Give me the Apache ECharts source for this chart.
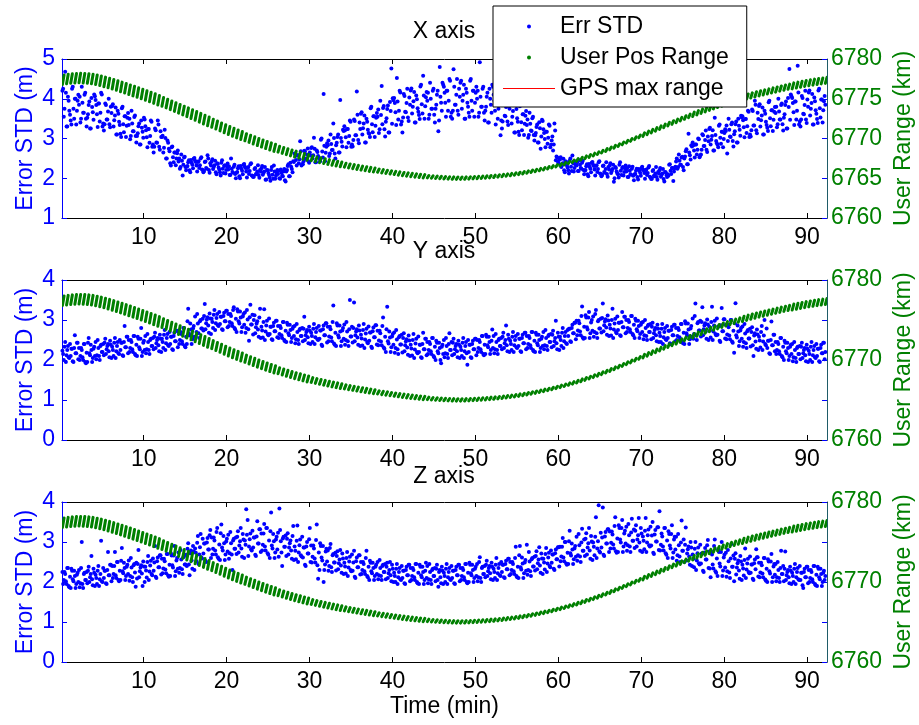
<!DOCTYPE html>
<html><head><meta charset="utf-8">
<script src="https://cdn.jsdelivr.net/npm/echarts@6/dist/echarts.min.js"></script>
<style>html,body{margin:0;padding:0;background:#fff}#c{width:919px;height:725px}</style>
</head><body><div id="c"></div>
<script>
// ---- time base of the samples (minutes) ----
const T0 = 0.2, STEP = 1 / 6;          // first Err STD sample set, every 10 s
const T0B = 0.2 + 1 / 12;              // second, interleaved sample set
const RT0 = 0.2, RSTEP = 0.5;          // user range clusters every 30 s
const X_MIN = 0.15, X_MAX = 92.4;
const xTicks = [10, 20, 30, 40, 50, 60, 70, 80, 90];
const panelTitles = ['X axis', 'Y axis', 'Z axis'];
const leftRanges = [[1, 5], [0, 4], [0, 4]];
const rightRange = [6760, 6780];
const rightLabels = [[6760, 6765, 6770, 6775, 6780], [6760, 6770, 6780], [6760, 6770, 6780]];
const legendNames = ['Err STD', 'User Pos Range', 'GPS max range'];

// ---- Err STD (m), X axis ----
const errX = [
4.20,3.55,4.68,3.30,4.05,3.70, 3.45,4.25,3.75,4.00,3.35,3.95, 3.85,3.40,4.30,3.65,4.10,3.50,
3.52,3.84,3.25,4.02,3.66,4.11, 3.97,3.61,3.88,3.43,4.15,3.30, 3.20,3.88,3.48,3.68,3.36,3.80,
3.82,3.30,3.58,3.10,3.70,3.42, 3.12,3.76,3.36,3.56,3.04,3.52, 3.34,2.98,3.70,3.18,3.54,3.06,
3.06,3.31,2.85,3.45,3.17,3.52, 3.31,3.03,3.24,2.89,3.45,2.79, 2.65,3.25,2.90,3.45,2.79,3.18,
3.04,2.65,3.22,2.50,2.95,2.74, 2.38,2.78,2.53,2.65,2.33,2.63, 2.42,2.24,2.60,2.07,2.52,2.28,
2.29,2.40,2.20,2.46,2.34,2.49, 2.44,2.32,2.41,2.26,2.50,2.22, 2.15,2.41,2.26,2.58,2.21,2.38,
2.42,2.23,2.33,2.15,2.38,2.27, 2.15,2.39,2.24,2.31,2.12,2.30, 2.22,2.08,2.50,2.16,2.29,2.11,
2.14,2.25,2.05,2.31,2.19,2.34, 2.29,2.17,2.26,2.11,2.35,2.07, 2.03,2.23,2.11,2.17,2.08,2.21,
2.25,2.09,2.17,1.96,2.21,2.13, 2.02,2.21,2.09,2.32,1.99,2.14, 2.11,2.00,2.22,2.06,2.17,1.95,
2.17,2.31,2.05,2.39,2.23,2.43, 2.62,2.46,2.58,2.38,2.93,2.32, 2.35,2.69,2.49,2.59,2.43,2.65,
2.76,2.50,3.02,2.40,2.70,2.56, 2.49,2.97,2.67,4.12,2.43,2.79, 2.83,2.56,3.10,2.71,3.38,2.62,
2.83,3.04,2.65,3.97,2.92,3.22, 3.31,3.03,3.24,2.89,3.45,2.79, 2.80,3.48,3.08,4.18,2.96,3.40,
3.62,3.10,3.38,2.90,3.50,3.22, 3.12,3.76,3.36,3.56,3.04,3.52, 3.55,3.14,3.95,4.32,3.77,3.23,
3.42,3.74,3.15,3.92,4.76,4.01, 4.02,3.66,4.52,3.48,4.20,3.35, 3.15,4.12,3.67,3.89,3.53,4.03,
4.21,3.63,3.94,3.40,4.08,3.76, 3.59,4.31,3.86,4.58,3.50,4.04, 3.95,3.50,4.40,3.75,4.20,3.60,
3.75,4.10,3.18,4.80,3.90,4.40, 4.30,3.90,4.20,3.70,4.50,3.55, 3.50,4.74,3.85,4.10,3.70,4.25,
4.40,3.75,4.10,3.50,4.25,3.90, 3.65,4.45,3.95,4.20,3.55,4.15, 4.00,3.55,4.92,3.80,4.25,3.65,
3.70,4.05,3.40,4.25,3.85,4.35, 4.10,3.70,4.00,3.50,4.55,3.08, 3.25,4.02,3.57,3.79,3.43,3.93,
3.96,3.38,3.69,3.15,4.30,3.51, 3.17,3.81,3.41,3.61,3.09,3.57, 3.34,3.02,3.65,3.20,3.51,3.09,
3.08,3.29,2.90,3.41,2.74,3.47, 3.23,2.99,3.17,2.87,3.35,2.78, 2.95,2.70,3.38,2.45,2.52,2.38,
2.47,2.28,2.38,2.20,2.43,2.32, 2.20,2.44,2.29,2.57,2.17,2.35, 2.32,2.18,2.45,2.26,2.39,2.21,
2.19,2.30,2.10,2.36,2.24,2.39, 2.34,2.22,2.31,2.16,2.40,2.12, 2.05,2.31,2.16,2.23,2.11,2.28,
2.32,2.13,2.23,1.91,2.28,2.17, 2.10,2.34,2.19,2.26,2.07,2.25, 2.17,2.03,2.30,2.10,2.24,2.06,
2.10,2.19,2.03,2.23,2.14,2.26, 2.22,2.13,2.20,2.08,2.27,2.04, 1.98,2.18,2.06,2.12,2.03,2.16,
2.20,2.04,2.12,1.98,2.16,2.08, 2.10,2.34,2.19,2.26,1.93,2.25, 2.42,2.24,2.60,2.34,2.52,2.28,
2.50,2.68,2.35,3.12,2.58,2.83, 2.90,2.70,2.85,2.60,3.00,2.53, 2.60,3.11,2.81,2.96,2.72,3.05,
3.24,2.85,3.06,2.70,3.52,2.94, 2.84,3.32,3.02,3.17,2.78,3.14, 3.19,2.62,3.50,3.05,3.36,2.94,
3.11,3.36,2.90,3.50,3.22,3.57, 3.56,3.28,3.49,3.14,3.70,3.04, 3.05,3.73,3.33,3.95,3.21,3.65,
3.82,3.30,3.58,3.10,3.70,3.42, 3.27,3.91,3.51,3.71,3.19,3.67, 3.64,3.28,4.00,3.48,3.84,3.36,
3.52,3.84,3.25,4.02,4.75,4.11, 4.02,3.66,3.93,3.48,4.83,3.35, 3.30,4.07,3.62,3.84,3.48,3.98,
4.16,3.58,3.89,3.35,4.03,3.71, 3.49,4.21,3.76,3.98,3.40,3.94, 3.85
];
const errX2 = [
4.25,3.75,4.15,3.30,3.95,3.60, 3.35,4.30,3.50,4.00,3.70,4.10, 4.05,3.50,3.90,3.65,4.15,3.30,
3.61,3.93,3.25,3.79,3.47,4.06, 3.84,3.29,3.88,3.65,4.11,3.38, 3.36,3.84,3.48,4.00,3.28,3.64,
3.86,3.46,3.78,3.10,3.62,3.34, 3.04,3.80,3.16,3.56,3.32,3.64, 3.50,3.06,3.38,3.18,3.58,2.90,
3.13,3.38,2.85,3.27,3.02,3.48, 3.21,2.78,3.24,3.06,3.42,2.85, 2.79,3.21,2.89,3.35,2.72,3.04,
3.07,2.77,3.01,2.50,2.89,2.68, 2.32,2.80,2.40,2.65,2.50,2.70, 2.50,2.28,2.44,2.34,2.54,2.20,
2.31,2.45,2.15,2.39,2.25,2.51, 2.41,2.17,2.43,2.33,2.53,2.21, 2.18,2.42,2.24,2.50,2.14,2.32,
2.48,2.28,2.44,2.10,2.36,2.22, 2.07,2.45,2.13,2.33,2.21,2.37, 2.30,2.08,2.24,2.14,2.34,2.00,
2.16,2.30,2.00,2.24,2.10,2.36, 2.26,2.02,2.28,2.18,2.38,2.06, 2.04,2.26,2.10,2.33,2.01,2.17,
2.31,2.13,2.28,1.97,2.20,2.08, 1.94,2.28,1.99,2.17,2.06,2.21, 2.19,1.99,2.14,2.05,2.23,1.92,
2.21,2.35,2.05,2.29,2.15,2.41, 2.56,2.32,2.58,2.48,2.68,2.36, 2.43,2.67,2.49,2.75,2.39,2.57,
2.78,2.58,2.74,2.40,2.66,2.52, 2.43,3.00,2.52,2.82,2.64,2.88, 2.95,2.62,2.86,2.71,3.01,2.50,
2.89,3.10,2.65,3.01,2.80,3.19, 3.21,2.78,3.24,3.06,3.42,2.85, 2.96,3.44,3.08,3.60,2.88,3.24,
3.66,3.26,3.58,2.90,3.42,3.14, 3.04,3.80,3.16,3.56,3.32,3.64, 3.73,3.23,3.59,3.36,3.82,3.05,
3.51,3.83,3.15,3.69,3.37,3.96, 3.89,3.34,3.93,3.70,4.16,3.43, 3.53,4.07,3.66,4.25,3.44,3.85,
4.26,3.80,4.17,3.40,3.99,3.67, 3.49,4.35,3.63,4.08,3.81,4.17, 4.15,3.60,4.00,3.75,4.25,3.40,
3.85,4.20,3.45,4.05,3.70,4.35, 4.15,3.55,4.20,3.95,4.45,3.65, 3.70,4.30,3.85,4.50,3.60,4.05,
4.45,3.95,4.35,3.50,4.15,3.80, 3.55,4.50,3.70,4.20,3.90,4.30, 4.20,3.65,4.05,3.80,4.30,3.45,
3.80,4.15,3.40,4.00,3.65,4.30, 3.95,3.35,4.00,3.75,4.25,3.45, 3.43,3.97,3.56,4.15,3.34,3.75,
4.01,3.55,3.92,3.15,3.74,3.42, 3.09,3.85,3.21,3.61,3.37,3.69, 3.48,3.09,3.37,3.19,3.55,2.95,
3.14,3.35,2.90,3.26,3.05,3.44, 3.14,2.78,3.17,3.02,3.32,2.84, 3.05,2.85,3.20,2.55,2.42,2.50,
2.53,2.33,2.49,2.15,2.41,2.27, 2.12,2.50,2.18,2.38,2.26,2.42, 2.40,2.18,2.34,2.24,2.44,2.10,
2.21,2.35,2.05,2.29,2.15,2.41, 2.31,2.07,2.33,2.23,2.43,2.11, 2.08,2.32,2.14,2.40,2.04,2.22,
2.38,2.18,2.34,2.00,2.26,2.12, 2.02,2.40,2.08,2.28,2.16,2.32, 2.25,2.03,2.19,2.09,2.29,1.95,
2.11,2.24,1.97,2.19,2.06,2.29, 2.20,1.99,2.22,2.13,2.31,2.02, 1.99,2.21,2.05,2.28,1.96,2.12,
2.26,2.08,2.23,1.92,2.15,2.03, 2.06,2.35,2.11,2.26,2.17,2.29, 2.50,2.28,2.44,2.34,2.54,2.20,
2.55,2.73,2.35,2.65,2.47,2.80, 2.83,2.52,2.85,2.72,2.98,2.57, 2.72,3.08,2.81,3.20,2.66,2.93,
3.27,2.97,3.21,2.70,3.09,2.88, 2.78,3.35,2.87,3.17,2.99,3.23, 3.33,2.94,3.22,3.04,3.40,2.80,
3.18,3.43,2.90,3.32,3.07,3.53, 3.46,3.03,3.49,3.31,3.67,3.10, 3.21,3.69,3.33,3.85,3.13,3.49,
3.86,3.46,3.78,3.10,3.62,3.34, 3.19,3.95,3.31,3.71,3.47,3.79, 3.80,3.36,3.68,3.48,3.88,3.20,
3.61,3.93,3.25,3.79,3.47,4.06, 3.89,3.34,3.93,3.70,4.16,3.43, 3.48,4.02,3.61,4.20,3.39,3.80,
4.21,3.75,4.12,3.35,3.94,3.62, 3.39,4.25,3.53,3.98,3.71,4.07
];

// ---- Err STD (m), Y axis ----
const errY = [
2.23,2.00,2.45,2.12,2.35,2.05, 2.10,2.28,1.95,2.62,2.17,2.43, 2.30,2.10,2.25,2.00,2.40,1.92,
1.95,2.55,2.12,2.25,2.05,2.33, 2.45,2.12,2.30,2.00,2.38,2.20, 2.12,2.53,2.27,2.40,2.07,2.38,
2.33,2.10,2.55,2.22,2.45,2.15, 2.25,2.43,2.10,2.85,2.32,2.58, 2.50,2.30,2.45,2.20,2.60,2.12,
2.10,2.53,2.27,2.80,2.20,2.48, 2.60,2.27,2.45,2.15,2.53,2.35, 2.27,2.68,2.42,2.55,2.22,2.53,
2.53,2.30,2.75,2.42,2.65,2.35, 2.40,2.58,2.25,2.68,2.47,2.73, 2.70,2.50,2.65,2.40,2.80,2.32,
2.40,3.28,2.61,2.76,2.52,2.85, 3.09,2.70,2.91,2.55,3.00,2.79, 2.74,3.40,2.92,3.07,2.68,3.04,
3.03,2.80,3.25,2.92,3.15,2.85, 2.90,3.08,2.75,3.18,2.97,3.23, 3.15,2.95,3.10,2.85,3.32,2.77,
2.70,3.21,2.91,3.06,2.82,3.15, 3.19,2.80,3.01,2.48,3.38,2.89, 2.64,3.12,2.82,2.97,2.58,3.28,
2.83,2.56,3.27,2.71,2.98,2.62, 2.65,2.83,2.50,2.93,2.72,2.98, 2.85,2.65,2.80,2.55,2.95,2.47,
2.45,2.88,2.62,2.75,2.55,2.83, 2.85,2.52,2.70,2.40,2.78,2.60, 2.47,3.08,2.62,2.75,2.42,2.73,
2.68,2.45,2.90,2.57,2.80,2.50, 2.53,2.74,2.35,2.86,2.62,2.92, 2.83,2.59,2.77,2.47,3.36,2.38,
2.35,2.86,2.56,2.71,2.47,2.80, 2.89,2.50,2.71,2.35,3.50,2.59, 2.44,3.44,2.62,2.77,2.38,2.74,
2.63,2.36,2.90,2.51,2.78,2.42, 2.48,2.69,2.30,2.81,2.57,2.87, 2.73,2.49,2.67,2.37,3.06,2.28,
2.20,3.33,2.41,2.56,2.32,2.65, 2.69,2.30,2.51,2.15,2.60,2.39, 2.19,2.67,2.37,2.52,2.13,2.49,
2.38,2.11,2.65,2.26,2.53,2.17, 2.20,2.38,2.05,2.68,2.27,2.53, 2.45,2.25,2.40,2.15,2.55,2.07,
2.00,2.43,2.17,2.30,1.92,2.38, 2.50,2.17,2.35,2.05,2.67,2.25, 2.12,2.53,2.27,2.40,2.07,2.38,
2.33,2.10,2.55,2.22,2.45,1.88, 2.20,2.38,2.05,2.48,2.27,2.53, 2.50,2.30,2.45,2.20,2.60,2.12,
2.15,2.58,2.32,2.45,2.25,2.76, 2.60,2.27,2.45,2.15,2.53,2.35, 2.27,2.68,2.42,2.86,2.22,2.53,
2.48,2.25,2.70,2.37,2.60,2.30, 2.35,2.53,2.20,2.63,2.42,2.68, 2.60,2.40,2.55,2.30,2.70,2.22,
2.20,2.63,2.37,2.50,2.30,2.58, 2.70,2.37,2.55,2.25,2.63,2.45, 2.32,2.73,2.47,2.98,2.27,2.58,
2.58,2.35,2.80,2.47,2.70,2.40, 2.60,2.78,2.45,2.88,2.67,2.93, 2.98,2.74,2.92,2.62,3.34,2.53,
2.55,3.06,2.76,3.20,2.67,3.00, 3.09,2.70,3.25,2.55,3.00,2.79, 2.69,3.41,2.87,3.02,2.63,2.99,
2.88,2.61,3.28,2.76,3.03,2.67, 2.75,2.93,2.60,3.20,2.82,3.08, 3.00,2.80,2.95,2.70,3.10,2.62,
2.55,2.98,2.72,2.85,2.65,2.93, 2.95,2.62,2.80,2.50,2.88,2.70, 2.52,2.93,2.67,2.80,2.47,2.78,
2.68,2.45,2.90,2.57,2.80,2.50, 2.55,2.73,2.40,2.83,2.62,2.88, 2.80,2.60,2.75,2.50,2.90,2.42,
2.40,2.91,2.61,2.76,2.52,2.85, 3.04,2.65,3.41,2.50,2.95,2.74, 2.59,3.32,2.77,2.92,2.53,2.89,
2.83,2.56,3.33,2.71,2.98,2.62, 2.63,2.84,2.45,3.30,2.72,3.02, 2.88,2.64,2.82,2.52,3.00,2.43,
2.18,3.42,2.56,2.71,2.47,2.80, 2.84,2.45,2.66,2.30,2.75,2.54, 2.34,2.82,2.10,2.67,2.28,2.64,
2.58,2.31,2.85,2.46,3.00,2.37, 2.30,2.48,2.15,2.96,2.37,2.63, 2.45,2.25,2.40,2.15,2.55,2.07,
2.00,2.43,2.17,2.30,2.10,2.38, 2.40,2.07,2.25,1.95,2.33,2.15, 2.02,2.43,2.17,2.30,1.97,2.28,
2.23,2.00,2.45,2.12,2.35,2.05, 2.10,2.28,1.95,2.38,2.17,2.43, 2.20
];
const errY2 = [
2.15,2.33,1.95,2.25,2.07,2.40, 2.28,1.97,2.30,2.17,2.43,2.02, 2.00,2.30,2.07,2.40,1.95,2.18,
2.43,2.17,2.38,1.95,2.28,2.10, 2.02,2.50,2.10,2.35,2.20,2.40, 2.43,2.15,2.35,2.22,2.48,2.05,
2.25,2.43,2.05,2.35,2.17,2.50, 2.43,2.12,2.45,2.32,2.58,2.17, 2.20,2.50,2.27,2.60,2.15,2.38,
2.58,2.32,2.53,2.10,2.43,2.25, 2.17,2.65,2.25,2.50,2.35,2.55, 2.58,2.30,2.50,2.37,2.63,2.20,
2.45,2.63,2.25,2.55,2.37,2.70, 2.58,2.27,2.60,2.47,2.73,2.32, 2.40,2.70,2.47,2.80,2.35,2.58,
2.97,2.67,2.91,2.40,2.79,2.58, 2.58,3.15,2.67,2.97,2.79,3.03, 3.10,2.77,3.01,2.86,3.16,2.65,
2.95,3.13,2.75,3.05,2.87,3.20, 3.08,2.77,3.10,2.97,3.23,2.82, 2.85,3.15,2.92,3.25,2.80,3.03,
3.27,2.97,3.21,2.70,3.09,2.88, 2.68,3.25,2.77,3.07,2.89,3.13, 3.00,2.67,2.91,2.76,3.06,2.55,
2.74,2.95,2.50,2.86,2.65,3.04, 2.83,2.52,2.85,2.72,2.98,2.57, 2.55,2.85,2.62,2.95,2.50,2.73,
2.93,2.67,2.88,2.45,2.78,2.60, 2.42,2.90,2.50,2.75,2.60,2.80, 2.78,2.50,2.70,2.57,2.83,2.40,
2.60,2.78,2.40,2.70,2.52,2.85, 2.74,2.38,2.77,2.62,2.92,2.44, 2.47,2.83,2.56,2.95,2.41,2.68,
2.92,2.62,2.86,2.35,2.74,2.53, 2.38,2.95,2.47,2.77,2.59,2.83, 2.80,2.47,2.71,2.56,2.86,2.35,
2.54,2.75,2.30,2.66,2.45,2.84, 2.69,2.33,2.72,2.57,2.87,2.39, 2.37,2.73,2.46,2.85,2.31,2.58,
2.77,2.47,2.71,2.20,2.59,2.38, 2.18,2.75,2.27,2.57,2.39,2.63, 2.55,2.22,2.46,2.31,2.61,2.10,
2.29,2.50,2.05,2.41,2.20,2.59, 2.38,2.07,2.40,2.27,2.53,2.12, 2.15,2.45,2.22,2.55,2.10,2.33,
2.48,2.22,2.43,2.00,2.33,2.15, 2.07,2.55,2.15,2.40,2.25,2.45, 2.43,2.15,2.35,2.22,2.48,2.05,
2.25,2.43,2.05,2.35,2.17,2.50, 2.38,2.07,2.40,2.27,2.53,2.12, 2.20,2.50,2.27,2.60,2.15,2.38,
2.63,2.37,2.58,2.15,2.48,2.30, 2.17,2.65,2.25,2.50,2.35,2.55, 2.58,2.30,2.50,2.37,2.63,2.20,
2.40,2.58,2.20,2.50,2.32,2.65, 2.53,2.22,2.55,2.42,2.68,2.27, 2.30,2.60,2.37,2.70,2.25,2.48,
2.68,2.42,2.63,2.20,2.53,2.35, 2.27,2.75,2.35,2.60,2.45,2.65, 2.63,2.35,2.55,2.42,2.68,2.25,
2.50,2.68,2.30,2.60,2.42,2.75, 2.78,2.47,2.80,2.67,2.93,2.52, 2.62,2.98,2.71,3.10,2.56,2.83,
3.12,2.82,3.06,2.55,2.94,2.73, 2.58,3.15,2.67,2.97,2.79,3.03, 3.05,2.72,2.96,2.81,3.11,2.60,
2.79,3.00,2.55,2.91,2.70,3.09, 2.93,2.62,2.95,2.82,3.08,2.67, 2.70,3.00,2.77,3.10,2.65,2.88,
3.03,2.77,2.98,2.55,2.88,2.70, 2.52,3.00,2.60,2.85,2.70,2.90, 2.83,2.55,2.75,2.62,2.88,2.45,
2.60,2.78,2.40,2.70,2.52,2.85, 2.73,2.42,2.75,2.62,2.88,2.47, 2.50,2.80,2.57,2.90,2.45,2.68,
2.97,2.67,2.91,2.40,2.79,2.58, 2.53,3.10,2.62,2.92,2.74,2.98, 2.95,2.62,2.86,2.71,3.01,2.50,
2.74,2.95,2.50,2.86,2.65,3.04, 2.84,2.48,2.87,2.72,3.02,2.54, 2.52,2.88,2.61,3.00,2.46,2.73,
2.92,2.62,2.86,2.35,2.74,2.53, 2.33,2.90,2.42,2.72,2.54,2.78, 2.70,2.37,2.61,2.46,2.76,2.25,
2.49,2.70,2.25,2.61,2.40,2.79, 2.48,2.17,2.50,2.37,2.63,2.22, 2.15,2.45,2.22,2.55,2.10,2.33,
2.48,2.22,2.43,2.00,2.33,2.15, 1.97,2.45,2.05,2.30,2.15,2.35, 2.33,2.05,2.25,2.12,2.38,1.95,
2.15,2.33,1.95,2.25,2.07,2.40, 2.28,1.97,2.30,2.17,2.43,2.02
];

// ---- Err STD (m), Z axis ----
const errZ = [
2.25,2.05,2.20,1.95,2.35,1.87, 1.85,2.28,2.02,2.15,1.95,2.23, 2.30,1.97,3.00,1.85,2.23,2.05,
1.97,2.38,2.12,2.65,1.92,2.23, 2.18,1.95,2.40,2.07,3.03,2.00, 2.10,2.28,1.95,2.75,2.17,2.43,
2.40,2.20,2.75,2.10,2.50,2.02, 2.05,2.85,2.22,2.35,2.15,2.43, 2.54,2.15,2.36,2.00,2.45,1.88,
2.09,2.80,2.27,2.42,1.90,2.39, 2.38,2.11,2.65,2.26,2.53,2.17, 2.28,2.90,2.10,2.61,2.37,2.67,
2.58,2.34,2.52,2.22,2.70,2.13, 2.15,2.66,2.36,2.90,2.27,2.60, 2.74,2.35,2.56,2.20,2.65,2.44,
2.40,2.97,2.17,2.79,2.33,2.76, 2.84,2.52,3.15,2.69,3.20,2.59, 2.71,2.96,2.50,3.10,2.81,3.30,
3.11,2.83,3.04,2.69,3.35,2.58, 2.55,3.44,2.79,2.97,2.69,3.08, 3.18,2.72,2.97,2.30,3.08,2.83,
2.70,3.27,2.91,3.35,2.63,3.06, 3.04,3.82,3.55,2.89,3.21,2.79, 2.86,3.11,2.65,3.52,2.96,3.32,
3.21,2.93,3.45,2.79,3.35,2.68, 2.60,3.74,2.84,3.02,2.74,3.13, 3.23,3.84,3.02,2.40,3.13,2.88,
2.65,3.22,2.86,3.04,2.58,3.40, 2.89,2.57,3.41,2.74,3.06,2.64, 2.61,2.86,2.40,3.00,2.71,3.35,
2.91,2.63,2.84,2.49,3.44,2.08, 2.30,2.90,2.54,2.00,2.44,2.83, 2.79,2.40,2.95,2.25,2.70,2.49,
2.29,2.77,2.47,2.80,2.23,2.59, 2.48,2.21,2.75,2.36,2.63,2.27, 2.28,2.78,2.10,2.61,2.37,2.67,
2.50,2.30,2.45,2.20,2.78,2.12, 2.05,2.48,2.22,2.35,2.15,2.43, 2.50,2.17,2.35,2.05,2.43,2.25,
2.07,2.48,2.22,2.50,2.02,2.33, 2.23,2.00,2.45,2.12,2.35,2.05, 2.10,2.28,1.95,2.38,2.17,2.43,
2.35,2.15,2.30,2.05,2.45,1.97, 1.95,2.38,2.12,2.25,2.05,2.48, 2.40,2.07,2.25,1.95,2.33,2.15,
2.02,2.43,1.88,2.30,1.97,2.28, 2.23,2.00,2.45,2.12,2.35,2.05, 2.10,2.28,1.95,2.38,2.17,2.43,
2.35,2.15,2.30,2.05,2.45,1.97, 2.00,2.43,2.17,2.30,2.10,2.38, 2.45,2.12,2.62,2.00,2.38,2.20,
2.12,2.53,2.27,2.40,2.07,2.38, 2.33,2.10,2.60,2.22,2.45,2.15, 2.25,2.43,2.10,2.53,2.32,2.58,
2.50,2.30,2.45,2.20,2.88,2.12, 2.10,2.90,2.31,2.46,2.22,2.55, 2.93,2.30,2.51,2.15,2.60,2.39,
2.29,2.77,2.47,2.87,2.23,2.59, 2.58,2.31,2.85,2.46,2.73,2.37, 2.48,2.69,2.30,2.81,2.57,2.87,
2.88,2.64,3.10,2.52,3.00,2.43, 2.45,3.28,2.66,2.81,2.57,2.90, 3.13,2.67,2.92,2.50,3.33,2.78,
2.65,3.22,2.86,3.35,2.58,3.01, 2.99,2.67,3.62,2.84,3.92,2.74, 2.86,3.86,2.65,3.25,2.96,3.32,
3.26,2.98,3.19,2.84,3.62,2.73, 2.75,3.35,2.99,3.55,2.89,3.28, 3.38,2.92,3.17,2.75,3.58,3.03,
2.85,3.42,3.06,3.60,2.78,3.21, 3.14,2.82,3.60,2.99,3.31,2.89, 2.91,3.50,2.70,3.30,3.01,3.37,
3.77,2.93,3.14,2.79,3.35,2.68, 2.60,3.20,2.84,3.42,2.74,3.13, 3.13,2.67,2.92,2.50,3.54,2.78,
2.50,3.36,2.71,2.89,2.43,2.86, 2.69,2.37,3.00,2.54,2.86,2.44, 2.46,2.71,2.25,2.85,2.56,3.05,
2.76,2.12,2.69,2.34,3.06,2.23, 2.15,2.75,2.39,3.00,2.29,2.68, 2.73,2.27,2.52,2.10,2.95,2.38,
2.02,2.72,2.36,2.54,2.08,2.51, 2.43,2.16,2.84,2.31,2.58,2.22, 2.23,2.44,2.05,2.56,2.82,2.62,
2.48,2.24,2.42,2.12,2.60,2.03, 2.00,2.51,2.21,2.70,2.12,2.45, 2.45,2.12,2.30,2.00,2.78,2.20,
2.02,2.76,2.17,2.30,1.97,2.28, 2.23,2.00,2.45,2.12,2.35,2.05, 2.05,2.23,1.85,2.33,2.12,2.38,
2.30,2.10,2.25,2.00,2.40,1.92, 1.90,2.33,2.07,2.20,2.00,2.28, 2.15
];
const errZ2 = [
1.95,2.25,2.02,2.35,1.90,2.13, 2.33,2.07,2.28,1.85,2.18,2.00, 1.87,2.35,1.95,2.20,2.05,2.25,
2.28,2.00,2.20,2.07,2.33,1.90, 2.10,2.28,1.90,2.20,2.02,2.35, 2.28,1.97,2.30,2.17,2.43,2.02,
2.10,2.40,2.17,2.50,2.05,2.28, 2.53,2.27,2.48,2.05,2.38,2.20, 2.03,2.60,2.12,2.42,2.24,2.48,
2.45,2.12,2.36,2.21,2.51,2.00, 2.29,2.50,2.05,2.41,2.20,2.59, 2.49,2.13,2.52,2.37,2.67,2.19,
2.22,2.58,2.31,2.70,2.16,2.43, 2.72,2.42,2.66,2.15,2.54,2.33, 2.23,2.80,2.32,2.62,2.44,2.68,
2.83,2.44,2.72,2.54,2.90,2.30, 2.73,2.98,2.45,2.87,2.62,3.08, 2.96,2.53,2.99,2.81,3.17,2.60,
2.69,3.11,2.79,3.25,2.62,2.94, 3.22,2.86,3.15,2.55,3.01,2.76, 2.58,3.25,2.69,3.04,2.83,3.11,
3.13,2.74,3.02,2.84,3.20,2.60, 2.93,3.18,2.65,3.07,2.82,3.28, 3.11,2.68,3.14,2.96,3.32,2.75,
2.79,3.21,2.89,3.35,2.72,3.04, 3.27,2.91,3.20,2.60,3.06,2.81, 2.63,3.30,2.74,3.09,2.88,3.16,
3.08,2.69,2.97,2.79,3.15,2.55, 2.78,3.03,2.50,2.92,2.67,3.13, 2.86,2.43,2.89,2.71,3.07,2.50,
2.49,2.91,2.59,3.05,2.42,2.74, 2.97,2.61,2.90,2.30,2.76,2.51, 2.28,2.85,2.37,2.67,2.49,2.73,
2.65,2.32,2.56,2.41,2.71,2.20, 2.39,2.60,2.15,2.51,2.30,2.69, 2.49,2.13,2.52,2.37,2.67,2.19,
2.20,2.50,2.27,2.60,2.15,2.38, 2.53,2.27,2.48,2.05,2.38,2.20, 2.07,2.55,2.15,2.40,2.25,2.45,
2.38,2.10,2.30,2.17,2.43,2.00, 2.15,2.33,1.95,2.25,2.07,2.40, 2.28,1.97,2.30,2.17,2.43,2.02,
2.05,2.35,2.12,2.45,2.00,2.23, 2.43,2.17,2.38,1.95,2.28,2.10, 1.97,2.45,2.05,2.30,2.15,2.35,
2.33,2.05,2.25,2.12,2.38,1.95, 2.15,2.33,1.95,2.25,2.07,2.40, 2.28,1.97,2.30,2.17,2.43,2.02,
2.05,2.35,2.12,2.45,2.00,2.23, 2.48,2.22,2.43,2.00,2.33,2.15, 2.02,2.50,2.10,2.35,2.20,2.40,
2.43,2.15,2.35,2.22,2.48,2.05, 2.25,2.43,2.05,2.35,2.17,2.50, 2.43,2.12,2.45,2.32,2.58,2.17,
2.20,2.50,2.27,2.60,2.15,2.38, 2.67,2.37,2.61,2.10,2.49,2.28, 2.18,2.75,2.27,2.57,2.39,2.63,
2.65,2.32,2.56,2.41,2.71,2.20, 2.49,2.70,2.25,2.61,2.40,2.79, 2.69,2.33,2.72,2.57,2.87,2.39,
2.52,2.88,2.61,3.00,2.46,2.73, 3.02,2.72,2.96,2.45,2.84,2.63, 2.53,3.20,2.64,2.99,2.78,3.06,
3.08,2.69,2.97,2.79,3.15,2.55, 2.88,3.13,2.60,3.02,2.77,3.23, 3.11,2.68,3.14,2.96,3.32,2.75,
2.84,3.26,2.94,3.40,2.77,3.09, 3.42,3.06,3.35,2.75,3.21,2.96, 2.78,3.45,2.89,3.24,3.03,3.31,
3.28,2.89,3.17,2.99,3.35,2.75, 3.03,3.28,2.75,3.17,2.92,3.38, 3.16,2.73,3.19,3.01,3.37,2.80,
2.79,3.21,2.89,3.35,2.72,3.04, 3.27,2.91,3.20,2.60,3.06,2.81, 2.53,3.20,2.64,2.99,2.78,3.06,
2.93,2.54,2.82,2.64,3.00,2.40, 2.58,2.83,2.30,2.72,2.47,2.93, 2.71,2.28,2.74,2.56,2.92,2.35,
2.34,2.76,2.44,2.90,2.27,2.59, 2.82,2.46,2.75,2.15,2.61,2.36, 2.13,2.80,2.24,2.59,2.38,2.66,
2.58,2.19,2.47,2.29,2.65,2.05, 2.34,2.55,2.10,2.46,2.25,2.64, 2.44,2.08,2.47,2.32,2.62,2.14,
2.12,2.48,2.21,2.60,2.06,2.33, 2.57,2.27,2.51,2.00,2.39,2.18, 2.02,2.50,2.10,2.35,2.20,2.40,
2.33,2.05,2.25,2.12,2.38,1.95, 2.15,2.33,1.95,2.25,2.07,2.40, 2.23,1.92,2.25,2.12,2.38,1.97,
2.00,2.30,2.07,2.40,1.95,2.18, 2.38,2.12,2.33,1.90,2.23,2.05
];

// ---- User position range (km): cluster centre and vertical extent ----
const rangeKm = [
6777.40,6777.48,6777.54,6777.58,6777.60,6777.58,6777.54,6777.48,6777.38,6777.26,
6777.12,6776.98,6776.82,6776.66,6776.49,6776.32,6776.14,6775.96,6775.78,6775.60,
6775.41,6775.22,6775.02,6774.82,6774.61,6774.40,6774.18,6773.96,6773.74,6773.52,
6773.30,6773.07,6772.84,6772.61,6772.38,6772.15,6771.92,6771.69,6771.46,6771.23,
6771.00,6770.79,6770.58,6770.37,6770.16,6769.96,6769.76,6769.56,6769.37,6769.18,
6769.00,6768.83,6768.66,6768.50,6768.34,6768.19,6768.04,6767.90,6767.76,6767.63,
6767.50,6767.38,6767.26,6767.15,6767.04,6766.94,6766.84,6766.74,6766.64,6766.55,
6766.46,6766.37,6766.28,6766.20,6766.12,6766.04,6765.96,6765.88,6765.81,6765.74,
6765.67,6765.60,6765.53,6765.47,6765.41,6765.35,6765.30,6765.25,6765.20,6765.16,
6765.12,6765.09,6765.06,6765.04,6765.02,6765.01,6765.01,6765.02,6765.04,6765.07,
6765.10,6765.13,6765.16,6765.20,6765.24,6765.29,6765.34,6765.40,6765.46,6765.53,
6765.61,6765.69,6765.78,6765.88,6765.98,6766.09,6766.20,6766.32,6766.44,6766.57,
6766.70,6766.84,6766.99,6767.14,6767.30,6767.46,6767.63,6767.80,6767.98,6768.16,
6768.35,6768.55,6768.75,6768.96,6769.17,6769.38,6769.60,6769.82,6770.04,6770.26,
6770.48,6770.70,6770.92,6771.14,6771.36,6771.58,6771.80,6772.01,6772.22,6772.43,
6772.64,6772.84,6773.04,6773.24,6773.43,6773.62,6773.81,6773.99,6774.17,6774.35,
6774.52,6774.68,6774.84,6774.99,6775.14,6775.28,6775.42,6775.55,6775.68,6775.80,
6775.92,6776.04,6776.16,6776.28,6776.40,6776.51,6776.62,6776.72,6776.82,6776.92,
6777.01,6777.09,6777.17,6777.24,6777.31
];
const rangeSpan = [
1.2,1.2,1.2,1.2,1.2,1.2,1.2,1.2,1.2,1.2, 1.2,1.2,1.2,1.2,1.2,1.2,1.2,1.2,1.2,1.2,
1.2,1.2,1.2,1.2,1.1,1.1,1.1,1.1,1.1,1.1, 1.1,1.1,1.1,1.1,1.1,1.1,1.0,1.0,1.0,1.0,
1.0,1.0,1.0,1.0,0.9,0.9,0.9,0.9,0.9,0.9, 0.9,0.9,0.75,0.75,0.75,0.75,0.75,0.75,0.75,0.75,
0.6,0.6,0.6,0.6,0.6,0.6,0.6,0.6,0.5,0.5, 0.5,0.5,0.5,0.5,0.5,0.5,0.4,0.4,0.4,0.4,
0.4,0.4,0.4,0.4,0.4,0.4,0.4,0.4,0.3,0.3, 0.3,0.3,0.3,0.3,0.3,0.3,0.3,0.3,0.3,0.3,
0.3,0.3,0.3,0.3,0.3,0.3,0.3,0.3,0.3,0.3, 0.3,0.3,0.3,0.3,0.3,0.3,0.3,0.3,0.3,0.3,
0.3,0.3,0.3,0.3,0.35,0.35,0.35,0.35,0.35,0.35, 0.35,0.35,0.35,0.35,0.35,0.35,0.35,0.35,0.35,0.35,
0.45,0.45,0.45,0.45,0.45,0.45,0.45,0.45,0.45,0.45, 0.45,0.45,0.55,0.55,0.55,0.55,0.55,0.55,0.55,0.55,
0.55,0.55,0.55,0.55,0.65,0.65,0.65,0.65,0.65,0.65, 0.65,0.65,0.65,0.65,0.65,0.65,0.75,0.75,0.75,0.75,
0.75,0.75,0.75,0.75,0.75
];
const RANGE_LEAN = 0.2;   // each cluster rises over ~12 s

// ---- styling ----
const FONT = '"Liberation Sans", Arial, Helvetica, sans-serif';
const BLUE = '#0000ff', GREEN = '#008000', RED = '#ff0000', SPINE = '#1f5c68';
const FS = 23;
const gridTops = [59, 280, 502], gridHeights = [159, 160, 160], titleTops = [20, 240, 465];

const errs = [errX, errY, errZ];
const errs2 = [errX2, errY2, errZ2];
const grid = [], xAxis = [], yAxis = [], series = [], title = [];

function rangeItems() {
  return rangeKm.map((c, k) => {
    const t = RT0 + k * RSTEP;
    return [t, c - rangeSpan[k] / 2, t + RANGE_LEAN, c + rangeSpan[k] / 2];
  });
}

for (let i = 0; i < 3; i++) {
  grid.push({left: 62, right: 92, top: gridTops[i], height: gridHeights[i], containLabel: false, outerBoundsMode: 'none'});
  title.push({text: panelTitles[i], left: 444, top: titleTops[i], textAlign: 'center', padding: 0,
    textStyle: {fontSize: FS, fontWeight: 'normal', color: '#000', fontFamily: FONT}});
  xAxis.push({gridIndex: i, type: 'value', position: 'bottom', min: X_MIN, max: X_MAX,
    axisLine: {show: true, onZero: false, lineStyle: {color: '#000', width: 1}},
    axisTick: {show: true, inside: true, length: 5, customValues: xTicks, lineStyle: {color: '#000'}},
    axisLabel: {show: true, customValues: xTicks, color: '#000', fontSize: FS, fontFamily: FONT, margin: 8},
    splitLine: {show: false},
    name: i === 2 ? 'Time (min)' : '', nameLocation: 'middle', nameGap: 33, nameMoveOverlap: false,
    nameTextStyle: {color: '#000', fontSize: FS, fontFamily: FONT}});
  xAxis.push({gridIndex: i, type: 'value', position: 'top', min: X_MIN, max: X_MAX,
    axisLine: {show: true, onZero: false, lineStyle: {color: '#000', width: 1}},
    axisTick: {show: true, inside: true, length: 5, customValues: xTicks, lineStyle: {color: '#000'}},
    axisLabel: {show: false}, splitLine: {show: false}});
  yAxis.push({gridIndex: i, type: 'value', position: 'left', min: leftRanges[i][0], max: leftRanges[i][1], interval: 1,
    axisLine: {show: true, onZero: false, lineStyle: {color: BLUE, width: 1}},
    axisTick: {show: true, inside: true, length: 5, lineStyle: {color: BLUE}},
    axisLabel: {color: BLUE, fontSize: FS, fontFamily: FONT, margin: 7},
    splitLine: {show: false},
    name: 'Error STD (m)', nameLocation: 'middle', nameGap: 25, nameMoveOverlap: false,
    nameTextStyle: {color: BLUE, fontSize: FS, fontFamily: FONT}});
  yAxis.push({gridIndex: i, type: 'value', position: 'right', min: rightRange[0], max: rightRange[1], interval: 5,
    axisLine: {show: true, onZero: false, lineStyle: {color: SPINE, width: 1}},
    axisTick: {show: true, inside: true, length: 5, lineStyle: {color: BLUE}},
    axisLabel: {color: GREEN, fontSize: FS, fontFamily: FONT, margin: 4, customValues: rightLabels[i],
      formatter: v => String(v)},
    splitLine: {show: false},
    name: 'User Range (km)', nameLocation: 'middle', nameGap: 65, nameMoveOverlap: false,
    nameTextStyle: {color: GREEN, fontSize: FS, fontFamily: FONT}});

  const pts = errs[i].map((v, k) => [T0 + k * STEP, v])
    .concat(errs2[i].map((v, k) => [T0B + k * STEP, v]));
  series.push({type: 'scatter', name: legendNames[0], xAxisIndex: 2 * i, yAxisIndex: 2 * i,
    data: pts, symbol: 'circle', symbolSize: 4, itemStyle: {color: BLUE, opacity: 1}, z: 2, silent: true});
  series.push({type: 'custom', name: legendNames[1], xAxisIndex: 2 * i, yAxisIndex: 2 * i + 1,
    data: rangeItems(), encode: {x: [0, 2], y: [1, 3]}, clip: true, z: 3, silent: true,
    itemStyle: {color: GREEN},
    renderItem: function (params, api) {
      const p0 = api.coord([api.value(0), api.value(1)]);
      const p1 = api.coord([api.value(2), api.value(3)]);
      return {type: 'line', shape: {x1: p0[0], y1: p0[1], x2: p1[0], y2: p1[1]},
        style: {stroke: GREEN, lineWidth: 3, lineCap: 'round'}};
    }});
}
series.push({type: 'line', name: legendNames[2], xAxisIndex: 0, yAxisIndex: 1, data: [],
  symbol: 'none', showSymbol: false, lineStyle: {color: RED, width: 1}, itemStyle: {color: RED}});

const option = {
  animation: false,
  backgroundColor: '#fff',
  title: title,
  grid: grid, xAxis: xAxis, yAxis: yAxis, series: series,
  legend: {show: true, orient: 'vertical', left: 493, top: 6, padding: [9, 18, 7, 10], itemGap: 8,
    itemWidth: 52, itemHeight: 4, backgroundColor: '#fff', borderColor: '#000', borderWidth: 1, borderRadius: 0,
    selectedMode: false, z: 20,
    textStyle: {fontSize: FS, color: '#000', fontFamily: FONT},
    data: [{name: legendNames[0], icon: 'circle'},
      {name: legendNames[1], icon: 'circle', itemStyle: {color: GREEN}},
      {name: legendNames[2], icon: 'path://M0,0 H52 V1 H0 Z', itemStyle: {color: RED}}]}
};
const chart = echarts.init(document.getElementById('c'));
chart.setOption(option);
</script>
</body></html>
